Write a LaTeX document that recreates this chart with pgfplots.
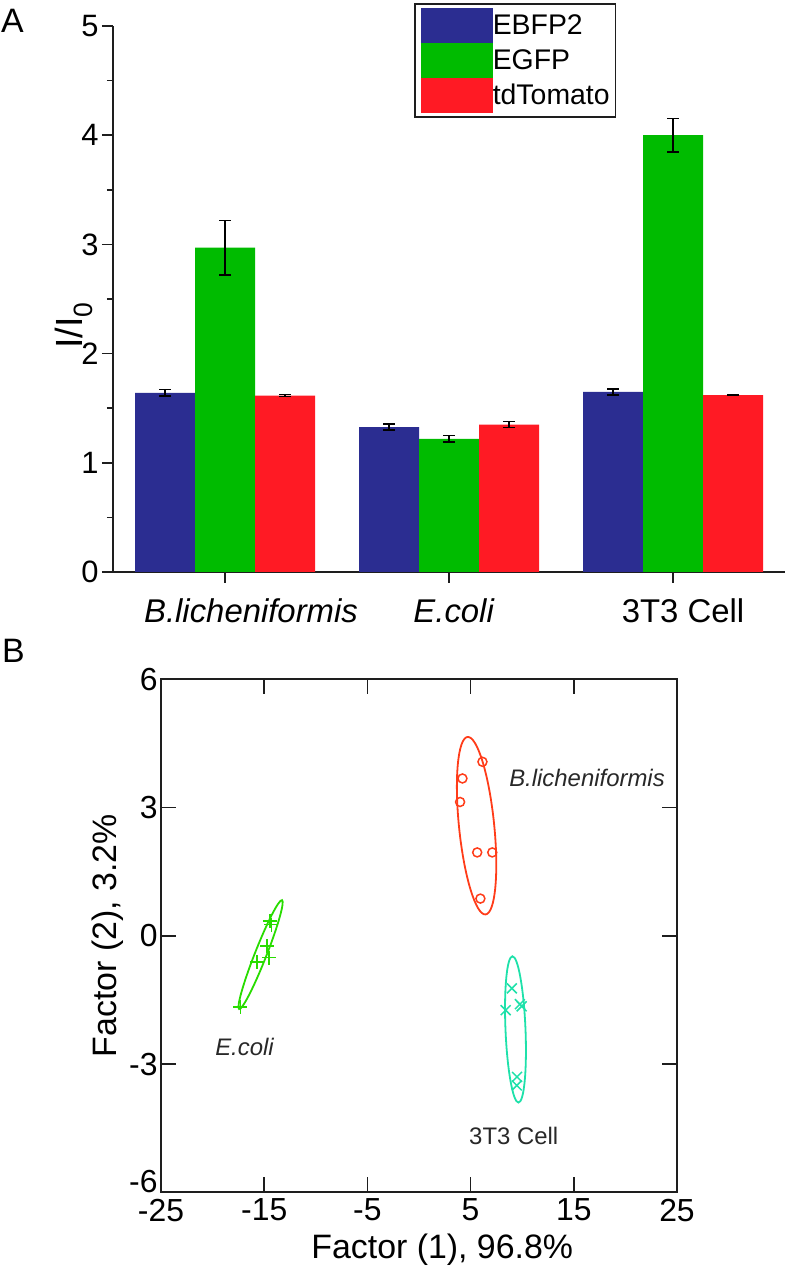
\documentclass[border=0pt]{standalone}
\usepackage{pgfplots}
\pgfplotsset{compat=1.18}
\usepackage{fontspec}
\setmainfont{Liberation Sans}
\definecolor{cblue}{RGB}{43,45,145}
\definecolor{cgreen}{RGB}{0,187,0}
\definecolor{cred}{RGB}{255,26,36}
\definecolor{bred}{RGB}{255,60,25}
\definecolor{bgreen}{RGB}{40,220,0}
\definecolor{bteal}{RGB}{30,225,170}
\definecolor{axc}{RGB}{30,30,30}
\definecolor{txc}{RGB}{40,40,40}
\begin{document}
\begin{tikzpicture}
\useasboundingbox (0,0) rectangle (787bp,1266bp);
\node[anchor=north west, inner sep=0pt, font=\fontsize{34}{38}\selectfont] at (1bp,1257bp) {A};
\node[anchor=north west, inner sep=0pt, font=\fontsize{34}{38}\selectfont] at (2bp,627bp) {B};
% ---------------- Panel A ----------------
\begin{axis}[
  at={(113bp,694bp)}, anchor=south west, scale only axis,
  width=672bp, height=546bp,
  ybar=0pt, bar width=60bp,
  xmin=-0.5, xmax=2.5, ymin=0, ymax=5,
  axis x line*=bottom, axis y line*=left,
  axis line style={line width=1.6bp, axc},
  tick align=outside, major tick length=11bp, minor tick length=6bp,
  every tick/.style={line width=1.6bp, axc},
  xtick={0,1,2},
  xticklabels={\hspace*{52bp}\textit{B.licheniformis}, \hspace*{10bp}\textit{E.coli}, \hspace*{20bp}3T3 Cell},
  xticklabel style={font=\fontsize{33}{38}\selectfont, yshift=-12bp},
  ytick={0,1,2,3,4,5}, minor ytick={0.5,1.5,2.5,3.5,4.5},
  yticklabel style={font=\fontsize{31}{34}\selectfont},
  /pgf/number format/assume math mode=true,
  ylabel={I/I\textsubscript{0}},
  ylabel style={font=\fontsize{38}{42}\selectfont, at={(rel axis cs:-0.046,0.452)}, anchor=base},
  legend style={at={(0.448,1.042)}, anchor=north west,
    draw=axc, line width=1.5bp, fill=white,
    inner xsep=6bp, inner ysep=4bp, row sep=0pt, column sep=0pt,
    nodes={inner sep=0pt, anchor=west},
    cells={anchor=west},
    font=\fontsize{28.5}{30}\selectfont},
  legend image code/.code={\path (0bp,-17.5bp) rectangle (72bp,17.5bp); \fill[#1] (0bp,-15.5bp) rectangle (63bp,15.5bp);},
]
\addplot[fill=cblue, draw=none,
  error bars/.cd, y dir=both, y explicit,
  error bar style={line width=1.5bp, draw=black},
  error mark options={rotate=90, line width=1.5bp, draw=black, mark size=6bp}]
  coordinates {(0,1.64) +- (0,0.03) (1,1.327) +- (0,0.027) (2,1.65) +- (0,0.027)};
\addplot[fill=cgreen, draw=none,
  error bars/.cd, y dir=both, y explicit,
  error bar style={line width=1.5bp, draw=black},
  error mark options={rotate=90, line width=1.5bp, draw=black, mark size=6bp}]
  coordinates {(0,2.97) +- (0,0.25) (1,1.22) +- (0,0.03) (2,4.0) +- (0,0.155)};
\addplot[fill=cred, draw=none,
  error bars/.cd, y dir=both, y explicit,
  error bar style={line width=1.5bp, draw=black},
  error mark options={rotate=90, line width=1.5bp, draw=black, mark size=6bp}]
  coordinates {(0,1.615) +- (0,0.01) (1,1.35) +- (0,0.027) (2,1.62) +- (0,0.006)};
\legend{EBFP2, EGFP, tdTomato}
\end{axis}
% ---------------- Panel B ----------------
\begin{axis}[
  at={(161bp,73.7bp)}, anchor=south west, scale only axis,
  width=516bp, height=513bp,
  xmin=-25, xmax=25, ymin=-6, ymax=6,
  xtick={-25,-15,-5,5,15,25}, ytick={-6,-3,0,3,6},
  yticklabels={\raisebox{22bp}{-6},-3,0,3,6},
  tick align=inside, major tick length=15bp,
  axis line style={line width=1.6bp, axc},
  every tick/.style={line width=1.6bp, axc},
  ticklabel style={font=\fontsize{32}{36}\selectfont},
  xticklabel style={yshift=-3bp},
  /pgf/number format/assume math mode=true,
  xlabel={Factor (1), 96.8\%},
  xlabel style={font=\fontsize{34}{38}\selectfont, at={(rel axis cs:0.545,0)}, anchor=base, yshift=-65.7bp},
  ylabel={Factor (2), 3.2\%},
  ylabel style={font=\fontsize{34}{38}\selectfont, at={(rel axis cs:-0.0853,0.5)}, anchor=base},
]
\addplot[only marks, mark=o, mark size=4.5bp, bred, line width=1.5bp]
  coordinates {(6.15,4.07) (4.21,3.68) (3.98,3.13) (5.64,1.95) (7.1,1.95) (5.95,0.87)};
\addplot[only marks, mark=+, mark size=7bp, bgreen, line width=1.5bp]
  coordinates {(-14.45,0.35) (-14.3,0.26) (-14.72,-0.24) (-15.72,-0.61) (-14.52,-0.51) (-17.3,-1.66)};
\addplot[only marks, mark=x, mark size=7bp, bteal, line width=1.5bp]
  coordinates {(9.0,-1.23) (8.4,-1.74) (9.78,-1.6) (9.95,-1.65) (9.5,-3.3) (9.48,-3.5)};
\draw[bred, line width=1.8bp, rotate around={95.8:(axis cs:5.58,2.575)}]
  (axis cs:5.58,2.575) ellipse [x radius=89.2bp, y radius=17.6bp];
\draw[bgreen, line width=1.8bp, rotate around={68.5:(axis cs:-15.35,-0.44)}]
  (axis cs:-15.35,-0.44) ellipse [x radius=58.5bp, y radius=5.8bp];
\draw[bteal, line width=1.8bp, rotate around={92.4:(axis cs:9.35,-2.19)}]
  (axis cs:9.35,-2.19) ellipse [x radius=73.2bp, y radius=10bp];
\node[font=\fontsize{24}{28}\selectfont\itshape, txc] at (axis cs:16.28,3.69) {B.licheniformis};
\node[font=\fontsize{24}{28}\selectfont\itshape, txc] at (axis cs:-16.91,-2.60) {E.coli};
\node[font=\fontsize{24}{28}\selectfont, txc] at (axis cs:9.18,-4.69) {3T3 Cell};
\end{axis}
\end{tikzpicture}
\end{document}
